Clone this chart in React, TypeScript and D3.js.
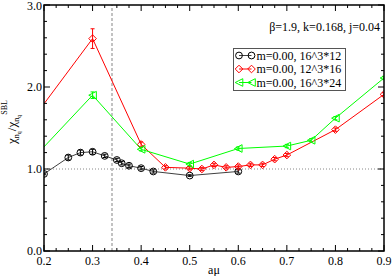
import React from "react";
import * as d3 from "d3";

// m=0.00, 16^3*12 (circles)
const blackX = [0.2, 0.25, 0.275, 0.3, 0.325, 0.35, 0.36, 0.375, 0.4, 0.425, 0.5, 0.6];
const blackY = [0.94, 1.14, 1.2, 1.21, 1.16, 1.11, 1.07, 1.04, 1.01, 0.97, 0.92, 0.97];
const blackErr = [0.01, 0.03, 0.03, 0.03, 0.02, 0.02, 0.02, 0.02, 0.02, 0.02, 0.01, 0.02];

// m=0.00, 12^3*16 (diamonds)
const redX = [0.1, 0.3, 0.4, 0.45, 0.5, 0.525, 0.55, 0.575, 0.6, 0.625, 0.65, 0.675, 0.7, 0.8, 0.9];
const redY = [1.0, 2.59, 1.3, 1.02, 1.01, 1.0, 1.05, 1.02, 1.03, 1.05, 1.05, 1.12, 1.17, 1.48, 1.91];
const redErr = [0.02, 0.12, 0.03, 0.02, 0.02, 0.02, 0.02, 0.02, 0.02, 0.02, 0.02, 0.02, 0.02, 0.02, 0.02];

// m=0.00, 16^3*24 (left triangles)
const greenX = [0.1, 0.3, 0.4, 0.5, 0.6, 0.7, 0.75, 0.8, 0.9];
const greenY = [0.64, 1.9, 1.24, 1.06, 1.25, 1.28, 1.35, 1.62, 2.11];
const greenErr = [0.02, 0.04, 0.02, 0.02, 0.02, 0.02, 0.02, 0.02, 0.02];

const xTicks = [0.2, 0.3, 0.4, 0.5, 0.6, 0.7, 0.8, 0.9];
const yTicks = [0, 1, 2, 3];
const legendLabels = ["m=0.00, 16^3*12", "m=0.00, 12^3*16", "m=0.00, 16^3*24"];

const W = 392;
const H = 276;
const m = { left: 44, right: 8, top: 5, bottom: 25 };

type Kind = "circle" | "diamond" | "ltri";

function Marker({ kind, x, y, color }: { kind: Kind; x: number; y: number; color: string }) {
  if (kind === "circle") return <circle cx={x} cy={y} r={3.4} fill="none" stroke={color} />;
  if (kind === "diamond") {
    const s = 3.8;
    return <path d={`M${x},${y - s}L${x + s},${y}L${x},${y + s}L${x - s},${y}Z`} fill="none" stroke={color} />;
  }
  const s = 3.8;
  return <path d={`M${x - s},${y}L${x + s},${y - s}L${x + s},${y + s}Z`} fill="none" stroke={color} />;
}

export default function App() {
  const x = d3.scaleLinear().domain([0.2, 0.9]).range([m.left, W - m.right]);
  const y = d3.scaleLinear().domain([0, 3]).range([H - m.bottom, m.top]);
  const line = d3.line<[number, number]>().x((d) => x(d[0])).y((d) => y(d[1]));

  const series = [
    { xs: blackX, ys: blackY, es: blackErr, color: "#000000", kind: "circle" as Kind, lineColor: "#404040" },
    { xs: redX, ys: redY, es: redErr, color: "#ff0000", kind: "diamond" as Kind, lineColor: "#ff0000" },
    { xs: greenX, ys: greenY, es: greenErr, color: "#00ff00", kind: "ltri" as Kind, lineColor: "#00ff00" },
  ];

  const xMinor = d3.range(0.2, 0.9001, 0.025);
  const yMinor = d3.range(0, 3.0001, 0.2);
  const x0 = m.left, x1 = W - m.right, y0 = H - m.bottom, y1 = m.top;
  const font = "'Liberation Serif', 'DejaVu Serif', serif";

  return (
    <div style={{ position: "absolute", left: 0, top: 0 }}>
      <svg width={W} height={H} style={{ display: "block", background: "#fff" }} fontFamily={font}>
        <defs>
          <clipPath id="plot">
            <rect x={x0} y={y1} width={x1 - x0} height={y0 - y1} />
          </clipPath>
        </defs>
        {/* reference lines */}
        <line x1={x0} x2={x1} y1={y(1)} y2={y(1)} stroke="#888" strokeDasharray="1,2" />
        <line x1={x(0.34)} x2={x(0.34)} y1={y0} y2={y1} stroke="#333" strokeDasharray="3,2" strokeWidth={0.6} />

        <g clipPath="url(#plot)">
          {series.map((s, i) => (
            <g key={i}>
              <path d={line(s.xs.map((v, j) => [v, s.ys[j]] as [number, number])) || ""} fill="none" stroke={s.lineColor} strokeWidth={1} />
              {s.xs.map((v, j) => (
                <g key={j}>
                  <line x1={x(v)} x2={x(v)} y1={y(s.ys[j] - s.es[j])} y2={y(s.ys[j] + s.es[j])} stroke={s.color} />
                  <line x1={x(v) - 2} x2={x(v) + 2} y1={y(s.ys[j] - s.es[j])} y2={y(s.ys[j] - s.es[j])} stroke={s.color} />
                  <line x1={x(v) - 2} x2={x(v) + 2} y1={y(s.ys[j] + s.es[j])} y2={y(s.ys[j] + s.es[j])} stroke={s.color} />
                  <Marker kind={s.kind} x={x(v)} y={y(s.ys[j])} color={s.color} />
                </g>
              ))}
            </g>
          ))}
        </g>

        {/* frame */}
        <rect x={x0} y={y1} width={x1 - x0} height={y0 - y1} fill="none" stroke="#000" strokeWidth={1.5} />
        {/* ticks */}
        {xMinor.map((v, i) => {
          const major = xTicks.some((t) => Math.abs(t - v) < 1e-6);
          const l = major ? 6 : 3;
          return (
            <g key={"xm" + i}>
              <line x1={x(v)} x2={x(v)} y1={y0} y2={y0 - l} stroke="#000" />
              <line x1={x(v)} x2={x(v)} y1={y1} y2={y1 + l} stroke="#000" />
            </g>
          );
        })}
        {yMinor.map((v, i) => {
          const major = yTicks.some((t) => Math.abs(t - v) < 1e-6);
          const l = major ? 6 : 3;
          return (
            <g key={"ym" + i}>
              <line x1={x0} x2={x0 + l} y1={y(v)} y2={y(v)} stroke="#000" />
              <line x1={x1} x2={x1 - l} y1={y(v)} y2={y(v)} stroke="#000" />
            </g>
          );
        })}
        {xTicks.map((t) => (
          <text key={"xt" + t} x={x(t)} y={y0 + 14} fontSize={12} textAnchor="middle">
            {d3.format(".1f")(t)}
          </text>
        ))}
        {yTicks.map((t) => (
          <text key={"yt" + t} x={x0 - 2} y={Math.max(y(t) + 4, 10)} fontSize={12} textAnchor="end">
            {d3.format(".1f")(t)}
          </text>
        ))}
        <text x={(x0 + x1) / 2} y={H - 2} fontSize={12} textAnchor="middle">aμ</text>

        {/* y label */}
        <text transform={`translate(16, 122) rotate(-90)`} fontSize={13} textAnchor="middle">
          χ<tspan fontSize={8} dy={3}>n</tspan>
          <tspan fontSize={6} dy={2}>q</tspan>
          <tspan fontSize={13} dy={-5}>/χ</tspan>
          <tspan fontSize={8} dy={3}>n</tspan>
          <tspan fontSize={6} dy={2}>q</tspan>
          <tspan fontSize={8} dy={-14}>SBL</tspan>
        </text>

        {/* annotation */}
        <text x={x1 - 4} y={31} fontSize={12} textAnchor="end">β=1.9, k=0.168, j=0.04</text>

        {/* legend */}
        <rect x={233.5} y={48.5} width={112} height={42} fill="#fff" stroke="#555" strokeWidth={1} />
        {series.map((s, i) => {
          const ly = 55.5 + i * 13.5;
          return (
            <g key={"lg" + i}>
              <line x1={239} x2={251.5} y1={ly} y2={ly} stroke={s.lineColor} />
              <Marker kind={s.kind} x={239} y={ly} color={s.color} />
              <Marker kind={s.kind} x={251.5} y={ly} color={s.color} />
              <text x={256.5} y={ly + 4} fontSize={12}>{legendLabels[i]}</text>
            </g>
          );
        })}
      </svg>
    </div>
  );
}
